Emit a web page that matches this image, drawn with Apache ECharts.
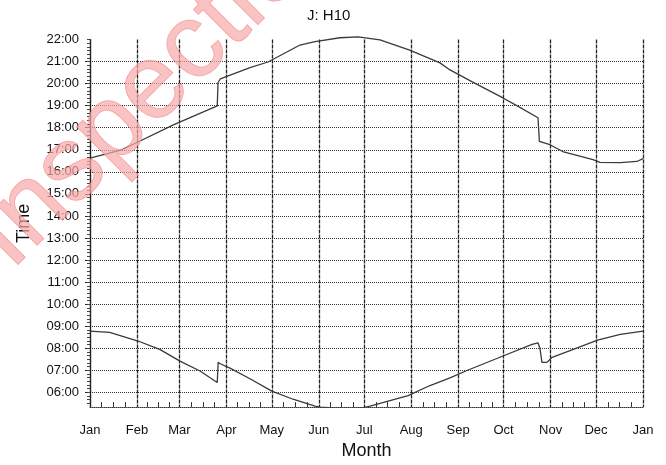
<!DOCTYPE html>
<html><head><meta charset="utf-8">
<script src="https://cdn.jsdelivr.net/npm/echarts@6/dist/echarts.min.js"></script>
<style>html,body{margin:0;padding:0;background:#fff}#c{width:666px;height:465px}</style>
</head><body><div id="c"></div>
<script>
const monthNames = ['Jan','Feb','Mar','Apr','May','Jun','Jul','Aug','Sep','Oct','Nov','Dec','Jan'];
const monthStartDays = [0,31,59,90,120,151,181,212,243,273,304,334,365];
const hourLabels = [6,7,8,9,10,11,12,13,14,15,16,17,18,19,20,21,22];

const sunsetDays  = [0, 21, 31, 55, 84, 84.5, 86, 105.6, 117.5, 138.6, 148.5, 165, 177, 191.4, 211, 231, 237.6, 252, 272.6, 282, 295.7, 296.6, 303.6, 312, 332, 336.6, 350, 361, 365];
const sunsetHours = [16.62, 17.0, 17.33, 18.13, 18.99, 20.05, 20.21, 20.72, 20.98, 21.75, 21.9, 22.08, 22.12, 21.98, 21.52, 20.94, 20.62, 20.09, 19.35, 18.99, 18.45, 17.38, 17.23, 16.92, 16.55, 16.43, 16.42, 16.47, 16.6];

const sunriseDays  = [0, 13, 31.7, 46, 59.4, 72.6, 84, 84.6, 86, 92.4, 105.6, 120, 134, 148.5, 152, 160, 172, 180, 184.8, 191.4, 210, 224, 238, 248, 272.6, 291.8, 295.7, 297, 298.3, 301.6, 305, 319, 335, 350, 365];
const sunriseHours = [8.78, 8.72, 8.33, 7.95, 7.42, 6.97, 6.45, 7.36, 7.3, 7.1, 6.62, 6.06, 5.69, 5.38, 5.33, 5.3, 5.28, 5.3, 5.38, 5.5, 5.85, 6.3, 6.67, 6.97, 7.65, 8.18, 8.25, 7.99, 7.36, 7.36, 7.59, 7.95, 8.37, 8.63, 8.78];

const pair = (xs, ys) => xs.map((x, i) => [x, ys[i]]);
const minorDays = [];
for (let m = 0; m < 12; m++) {
  const a = monthStartDays[m], b = monthStartDays[m + 1];
  for (let k = 1; k < 4; k++) minorDays.push(a + (b - a) * k / 4);
}
const tenMin = [];
for (let v = 33; v <= 132; v++) tenMin.push(v / 6);
const hourTickVals = hourLabels.filter(h => h < 22);
const FONT = '"Liberation Sans", Arial, sans-serif';
const pad = n => (n < 10 ? '0' : '') + n;

const chart = echarts.init(document.getElementById('c'), null, {renderer: 'canvas'});
chart.setOption({
  animation: false,
  backgroundColor: '#fff',
  title: {text: 'J: H10', left: 302, top: 3, textStyle: {fontSize: 15, fontWeight: 'normal', color: '#111', fontFamily: FONT}},
  grid: {left: 90, right: 23, top: 39.5, bottom: 56},
  xAxis: [{
    type: 'value', min: 0, max: 365,
    name: 'Month', nameLocation: 'middle', nameGap: 34,
    nameTextStyle: {fontSize: 18, color: '#111', fontFamily: FONT},
    axisLine: {show: true, lineStyle: {color: '#333', width: 1, type: 'dotted'}},
    axisTick: {show: false, customValues: monthStartDays},
    axisLabel: {customValues: monthStartDays, margin: 17, fontSize: 13, color: '#111', fontFamily: FONT,
      formatter: v => monthNames[monthStartDays.indexOf(v)]},
    splitLine: {show: true, lineStyle: {color: '#222', width: 1.3, type: [4, 1]}}
  }, {
    type: 'value', min: 0, max: 365, position: 'bottom', offset: 0,
    axisLine: {show: false},
    axisTick: {show: true, inside: true, length: 5, customValues: minorDays, lineStyle: {color: '#333', width: 1}},
    axisLabel: {show: false},
    splitLine: {show: false}
  }],
  yAxis: [{
    type: 'value', min: 32 / 6, max: 22,
    name: 'Time', nameLocation: 'middle', nameGap: 57, nameRotate: 90,
    nameTextStyle: {fontSize: 18, color: '#111', fontFamily: FONT},
    axisLine: {show: true, lineStyle: {color: '#222', width: 1.2}},
    axisTick: {show: true, length: 5, customValues: hourTickVals, lineStyle: {color: '#222'}},
    axisLabel: {customValues: hourLabels, margin: 11, fontSize: 13, color: '#111', fontFamily: FONT,
      formatter: v => pad(Math.round(v)) + ':00'},
    splitLine: {show: true, lineStyle: {color: '#333', width: 1, type: 'dotted'}}
  }, {
    type: 'value', min: 32 / 6, max: 22, position: 'left', offset: 0,
    axisLine: {show: false},
    axisTick: {show: true, length: 3, customValues: tenMin, lineStyle: {color: '#444', width: 1}},
    axisLabel: {show: false},
    splitLine: {show: false}
  }],
  series: [{
    name: 'Sunset', type: 'line', xAxisIndex: 0, yAxisIndex: 0, symbol: 'none', clip: false,
    data: pair(sunsetDays, sunsetHours),
    lineStyle: {color: '#3a3a3a', width: 1.3}
  }, {
    name: 'Sunrise', type: 'line', xAxisIndex: 0, yAxisIndex: 0, symbol: 'none',
    data: pair(sunriseDays, sunriseHours),
    lineStyle: {color: '#3a3a3a', width: 1.3}
  }],
  graphic: [{
    type: 'text', x: 28, y: 288, rotation: Math.PI / 4, z: 100,
    style: {text: 'Inspection', font: '106px "Liberation Sans", Arial, sans-serif',
      fill: 'rgba(248,170,170,0.7)', stroke: 'rgba(235,80,80,0.5)', lineWidth: 1, textVerticalAlign: 'bottom'}
  }]
});
</script></body></html>
